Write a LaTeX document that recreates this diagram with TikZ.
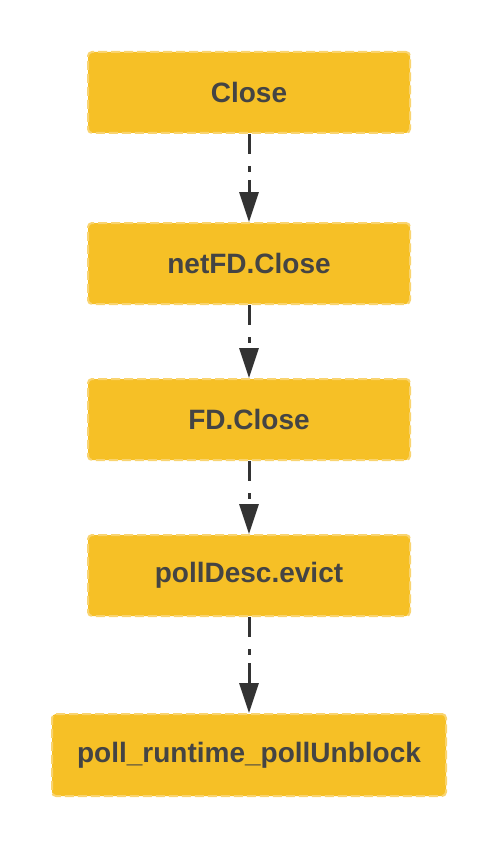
\documentclass[tikz,border=0pt]{standalone}
\usepackage{fontspec}
\setmainfont{Liberation Sans}
\usetikzlibrary{positioning}
\usetikzlibrary{arrows.meta}

\definecolor{boxfill}{HTML}{F6C026}
\definecolor{boxline}{HTML}{F9D470}
\definecolor{txtgray}{HTML}{444444}
\definecolor{arrgray}{HTML}{333333}

\tikzset{
  callbox/.style={draw=boxline, fill=boxfill, line width=2pt,
    dash pattern=on 9pt off 4pt, rounded corners=4pt,
    minimum width=322pt, minimum height=81pt, inner sep=0pt,
    text=txtgray, font=\fontsize{28}{33}\selectfont\bfseries},
  callarrow/.style={draw=arrgray, line width=3pt,
    dash pattern=on 20pt off 12pt on 6pt off 8pt,
    -{Triangle[length=30pt,width=19pt]}}
}

\begin{document}
\begin{tikzpicture}[x=1pt,y=-1pt]
        \useasboundingbox (0,0) rectangle (500,845);

        \node[callbox] (close) at (249,92.5) {Close};
        \node[callbox, below=88pt of close] (netfd) {netFD.Close};
        \node[callbox, below=73pt of netfd] (fdclose) {FD.Close};
        \node[callbox, below=73pt of fdclose] (evict) {pollDesc.evict};
        \node[callbox, below=96pt of evict, minimum width=394pt, minimum height=82pt] (unblock) {poll\_runtime\_pollUnblock};

        \draw[callarrow] (close) -- (netfd);
        \draw[callarrow] (netfd) -- (fdclose);
        \draw[callarrow] (fdclose) -- (evict);
        \draw[callarrow] (evict) -- (unblock);
\end{tikzpicture}
\end{document}
